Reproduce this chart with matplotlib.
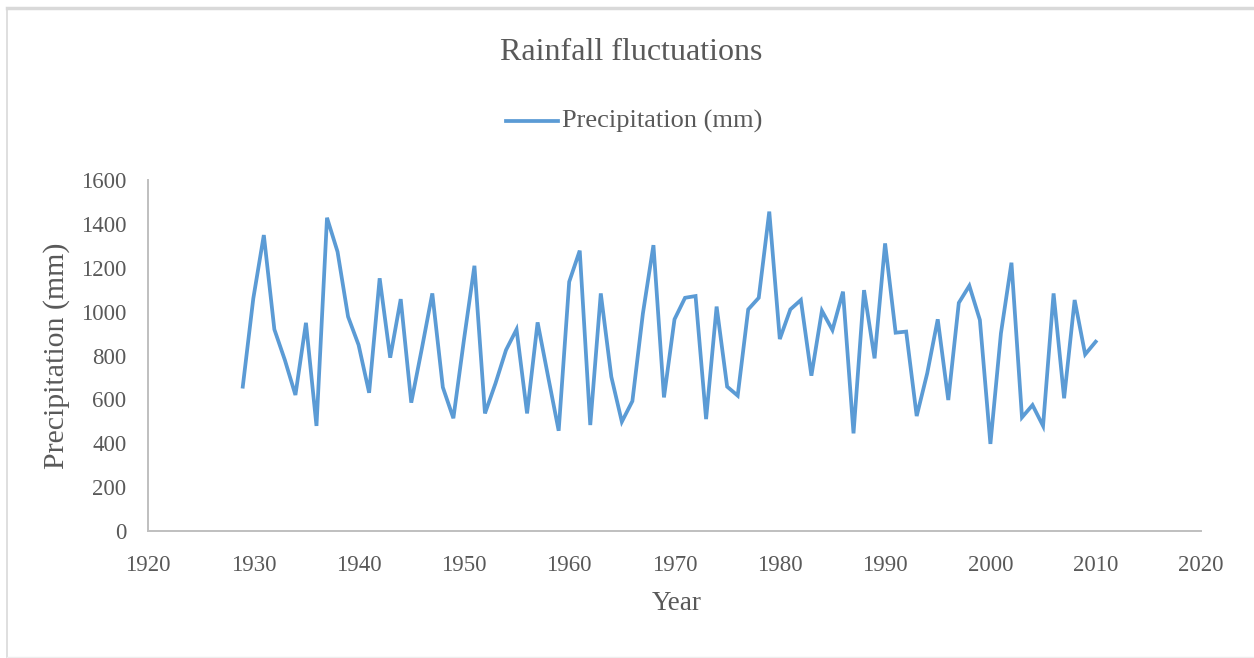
import matplotlib
matplotlib.use("Agg")
import matplotlib.pyplot as plt
from matplotlib.lines import Line2D

years = list(range(1929, 2011))
precip = [658, 1060, 1349, 919, 779, 620, 949, 479, 1428, 1273,
          977, 848, 630, 1152, 790, 1057, 585, 830, 1083, 655,
          514, 870, 1209, 536, 673, 825, 919, 536, 951, 703,
          457, 1136, 1278, 483, 1083, 703, 498, 592, 992, 1303,
          609, 965, 1063, 1071, 510, 1023, 658, 617, 1010, 1063,
          1456, 875, 1010, 1053, 708, 1004, 916, 1091, 445, 1098,
          787, 1311, 904, 909, 524, 719, 965, 597, 1040, 1118,
          962, 397, 901, 1223, 518, 574, 479, 1083, 605, 1053,
          805, 863]

x_ticks = [1920, 1930, 1940, 1950, 1960, 1970, 1980, 1990, 2000, 2010, 2020]
y_ticks = [0, 200, 400, 600, 800, 1000, 1200, 1400, 1600]

title = "Rainfall fluctuations"
series_name = "Precipitation (mm)"
x_label = "Year"
y_label = "Precipitation (mm)"

plt.rcParams['font.family'] = ['Liberation Serif', 'DejaVu Serif']
TXT = "#595959"
LINE = "#5B9BD5"
GRID = "#BFBFBF"

W, H = 1254, 658
fig = plt.figure(figsize=(W / 100, H / 100), dpi=100)
fig.patch.set_facecolor("white")

def fx(px):
    return px / W

def fy(py):
    return 1 - py / H

# outer chart frame
fig.add_artist(Line2D([fx(7), 1.0], [fy(7.5), fy(7.5)], color="#D9D9D9", lw=2.5, transform=fig.transFigure))
fig.add_artist(Line2D([fx(7), fx(7)], [fy(7.5), 0], color="#D9D9D9", lw=1.2, transform=fig.transFigure))
fig.add_artist(Line2D([fx(7), 1.0], [fy(656.5), fy(656.5)], color="#EEEEEE", lw=1.0, transform=fig.transFigure))

ax = fig.add_axes([fx(148), fy(531), fx(1201) - fx(148), fy(180) - fy(531)])

ax.plot(years, precip, color=LINE, lw=2.7, solid_joinstyle="miter")
ax.set_xlim(1920, 2020)
ax.set_ylim(0, 1600)
ax.set_xticks(x_ticks)
ax.set_yticks(y_ticks)
ax.tick_params(length=0, labelsize=16.5, colors=TXT)
ax.tick_params(axis="x", pad=17)
ax.tick_params(axis="y", pad=15.5)
for s in ["top", "right"]:
    ax.spines[s].set_visible(False)
for s in ["left", "bottom"]:
    ax.spines[s].set_color(GRID)
    ax.spines[s].set_linewidth(1.4)

fig.text(fx(677), fy(604), x_label, ha="center", va="center", fontsize=19.5, color=TXT)
fig.text(fx(57), fy(356), y_label, ha="center", va="center", rotation=90, fontsize=21.5, color=TXT)

fig.text(fx(631), fy(53), title, ha="center", va="center", fontsize=23, color=TXT)

# legend
fig.add_artist(Line2D([fx(506), fx(558)], [fy(121), fy(121)], color=LINE, lw=2.7, transform=fig.transFigure))
fig.text(fx(562), fy(121), series_name, ha="left", va="center", fontsize=19, color=TXT)

fig.savefig("out.png", dpi=100, facecolor="white")
